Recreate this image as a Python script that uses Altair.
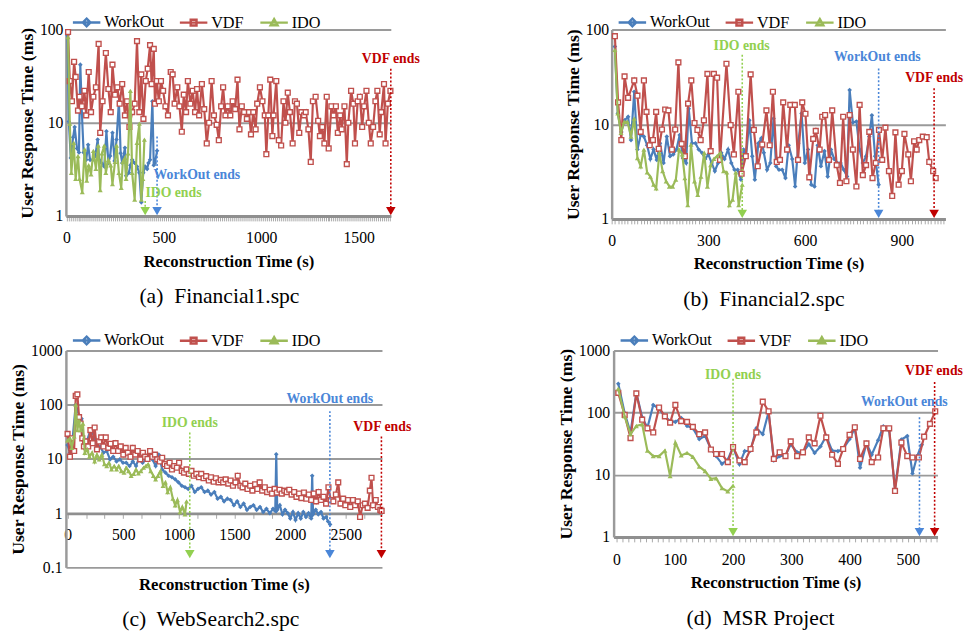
import altair as alt
import pandas as pd

FONT = "Liberation Serif"
SERIES = ["WorkOut", "VDF", "IDO"]
COLORS = ["#4A7EBB", "#C0504D", "#9BBB59"]
ANN_COLORS = {"WorkOut": "#4A86D8", "VDF": "#C00000", "IDO": "#92D050"}

# ---------------- (a) Financial1.spc ----------------
A_WORKOUT_X = [5, 12, 22, 34, 42, 54, 64, 71, 79, 88, 101, 111, 121, 135, 148, 160, 168, 180, 194, 205,
               215, 224, 236, 247, 257, 269, 278, 286, 300, 306, 320, 328, 337, 350, 362, 374, 384, 394, 404, 414,
               421, 429, 441, 448, 454, 465]
A_WORKOUT_Y = [87, 10.3, 4.2, 7, 9, 5.3, 4.8, 42, 12.6, 4.8, 4, 5.8, 4, 4, 4.4, 6.6, 4, 3.7, 3.4, 8.1,
               3.7, 4.4, 7.8, 3.9, 6.6, 17, 4.7, 3.7, 5.4, 2.7, 2.9, 3.5, 4, 3.7, 3.4, 2.9, 1.4, 2.9, 3.4, 3.2,
               3.7, 4, 17, 3.5, 3.7, 5]
A_VDF_X = [8, 17, 28, 39, 47, 59, 67, 79, 92, 101, 114, 126, 138, 151, 165, 173, 185, 202, 215, 227,
           236, 249, 261, 273, 286, 300, 311, 323, 337, 350, 362, 374, 384, 395, 407, 417, 429, 437, 448, 454,
           464, 474, 485, 496, 508, 521, 535, 545, 555, 569, 580, 592, 602, 614, 623, 636, 648, 660, 670, 681,
           695, 707, 720, 732, 745, 757, 771, 782, 794, 804, 816, 828, 841, 853, 866, 878, 888, 900, 912, 926,
           937, 947, 959, 971, 979, 993, 1006, 1018, 1026, 1036, 1046, 1057, 1063, 1077, 1090, 1102, 1114, 1124, 1136, 1147,
           1161, 1173, 1183, 1195, 1206, 1220, 1228, 1242, 1254, 1265, 1279, 1292, 1301, 1313, 1324, 1336, 1346, 1360, 1371, 1383,
           1393, 1405, 1413, 1427, 1439, 1447, 1461, 1473, 1481, 1495, 1506, 1518, 1528, 1540, 1552, 1562, 1574, 1586, 1596, 1608,
           1616, 1630, 1638, 1650, 1663]
A_VDF_Y = [94, 28, 17, 45, 31, 13.5, 19, 15, 22, 12, 35, 13, 19, 24, 70, 7.8, 17, 56, 23, 13,
           42, 20, 24, 16, 26, 12, 17, 9, 13, 16, 75, 13, 33, 11, 28, 38, 68, 26, 62, 16,
           28, 17, 28, 22, 15, 12, 35, 33, 16, 24, 15, 8, 20, 13, 28, 16, 22, 13, 23, 12,
           26, 14, 6, 10, 28, 12, 9.5, 6.5, 15, 24, 12, 15, 12, 17, 14, 29, 8.5, 15, 13, 11,
           13, 7.5, 13, 8.5, 16, 24, 17, 12, 4.6, 12, 29, 7.2, 12, 28, 6.5, 5.7, 17, 10, 21, 13,
           6, 17, 16, 7.8, 13, 12, 13, 8.5, 3.8, 17, 19, 10.5, 7.2, 9, 6, 19, 5.3, 15, 12, 15,
           7.8, 12, 8.5, 15, 3.6, 10, 22, 16, 6, 17, 19, 9, 15, 22, 10, 6, 9, 17, 22, 7.5,
           13, 26, 6, 16, 22]
A_IDO_X = [8, 17, 25, 37, 47, 59, 67, 81, 93, 104, 114, 126, 138, 151, 163, 173, 182, 194, 202, 215,
           227, 236, 249, 257, 269, 281, 289, 300, 306, 316, 328, 337, 350, 362, 374, 384, 392, 400]
A_IDO_Y = [83, 9.8, 2.9, 6.1, 2.5, 4.4, 2.5, 1.8, 5.2, 2.4, 3.5, 2.8, 5, 3.2, 5.7, 1.9, 4.7, 5.7, 2.9, 4,
           3.5, 2.2, 3.8, 5.7, 2.9, 2, 3.8, 4.2, 2.5, 4.7, 22, 2.9, 1.5, 6.1, 9.8, 1.5, 2.5, 6.6]

# ---------------- (b) Financial2.spc ----------------
B_WORKOUT_X = [10, 19, 30, 40, 51, 60, 70, 80, 90, 100, 110, 120, 130, 140, 150, 161, 171, 181, 191, 201,
               211, 221, 231, 239, 249, 260, 270, 280, 290, 300, 310, 320, 330, 340, 350, 361, 371, 381, 391, 401,
               409, 417, 427, 436, 444, 455, 464, 472, 482, 492, 502, 510, 519, 529, 539, 549, 560, 569, 579, 589,
               599, 609, 619, 629, 639, 649, 660, 670, 680, 690, 700, 710, 720, 730, 738, 748, 759, 769, 779, 789,
               799, 807, 817, 828]
B_WORKOUT_Y = [66, 13, 8.3, 11, 12, 6.8, 22, 5.4, 7.7, 7.4, 6, 4.3, 5.4, 4.2, 6.3, 3.9, 7.4, 4.6, 4.8, 5.4,
               7.7, 4.4, 3.9, 14.6, 6.3, 6.3, 5.4, 5, 4.3, 4.8, 3.9, 3.2, 3.9, 5, 4.3, 5.4, 3.9, 3.3, 3.3, 2.6,
               5.4, 4.6, 11, 4.6, 2.6, 6.3, 7.1, 5, 3.3, 3.9, 11.5, 3.6, 3.3, 3.3, 2.7, 6, 4.3, 2.2, 6.3, 13,
               3.9, 5.4, 2.3, 2.2, 6, 3.6, 5.2, 2.8, 5.4, 4.3, 3.9, 3.9, 3.3, 2.8, 23, 10.4, 10.7, 5.4, 3.9, 4.6,
               7.4, 12.4, 4.6, 2.3]
B_VDF_X = [10, 20, 30, 40, 51, 70, 80, 90, 100, 108, 118, 128, 138, 146, 156, 166, 176, 187, 197, 207,
           217, 227, 237, 247, 257, 266, 276, 286, 297, 307, 317, 327, 336, 356, 369, 379, 393, 403, 416, 431,
           441, 453, 467, 480, 490, 500, 512, 522, 532, 544, 554, 568, 578, 591, 601, 613, 625, 633, 645, 653,
           662, 674, 684, 698, 708, 718, 728, 738, 748, 759, 769, 779, 789, 799, 809, 819, 829, 839, 849, 860,
           870, 880, 890, 900, 908, 920, 928, 938, 946, 954, 965, 977, 985, 997, 1005]
B_VDF_Y = [85, 17, 6.8, 32, 19, 29, 20, 8.3, 29, 13.5, 6, 6.8, 13.5, 5.5, 8.8, 14.3, 14, 5.4, 8.8, 45,
           6.2, 4.6, 16.5, 29, 10.3, 8.7, 6.8, 11, 34, 5.2, 34, 31, 4.2, 43.5, 9.8, 4.8, 22, 3, 4.6, 33.6,
           8.7, 3.6, 6.1, 14, 6, 22, 4, 4.2, 17, 5.4, 16, 16, 4.2, 17, 12.9, 2.75, 7, 8.5, 5.4, 12,
           12.5, 4.2, 14, 3.7, 2.4, 12, 2.5, 12.5, 5.4, 2.2, 16, 2.9, 3.7, 8.3, 2.7, 3.9, 8.7, 4.2, 9.2, 3.2,
           1.75, 8.2, 2.3, 3.2, 7.9, 4.8, 2.5, 6.6, 5.4, 6.8, 7.4, 7.3, 4, 3.2, 2.7]
B_IDO_X = [10, 19, 29, 39, 49, 60, 70, 80, 90, 100, 110, 120, 130, 138, 148, 158, 169, 179, 189, 199,
           209, 219, 227, 236, 246, 257, 267, 277, 287, 297, 307, 317, 327, 337, 347, 357, 365, 375, 385, 394, 405]
B_IDO_Y = [61, 13, 8.1, 10.6, 10.6, 7.4, 11.5, 4.4, 3.6, 5.4, 3.1, 2.8, 2.3, 2.1, 5, 3.2, 2.5, 2.2, 2.2, 2.6,
           5.4, 4.8, 2.7, 1.4, 6.1, 2.5, 1.8, 2.8, 5, 2.2, 3.7, 4.3, 4.6, 5, 3.2, 3.1, 1.4, 1.6, 3.1, 1.4, 2.3]

# ---------------- (c) WebSearch2.spc ----------------
C_WORKOUT_X = [0, 21, 44, 73, 103, 126, 149, 176, 205, 234, 264, 293, 322, 352, 381, 410, 440, 469, 498, 527,
               557, 586, 615, 645, 674, 703, 733, 762, 791, 820, 850, 879, 908, 938, 967, 996, 1026, 1055, 1084, 1113,
               1143, 1172, 1201, 1231, 1260, 1289, 1319, 1348, 1377, 1406, 1436, 1465, 1494, 1524, 1553, 1582, 1612, 1641, 1670, 1699,
               1729, 1758, 1787, 1817, 1846, 1866, 1875, 1884, 1907, 1931, 1954, 1978, 2001, 2025, 2048, 2072, 2095, 2118, 2142, 2165,
               2189, 2198, 2206, 2230, 2253, 2277, 2300, 2323, 2341, 2359]
C_WORKOUT_Y = [18, 13, 22, 100, 63, 55, 17, 22, 34, 29, 15, 17, 13, 14, 9.8, 11, 9, 9.8, 8.5, 8.5,
               7.4, 9, 7.4, 11, 8.5, 9.8, 13, 9.8, 7.4, 12, 6.4, 5.6, 4.9, 4.6, 4.2, 3.7, 3.2, 3, 2.8, 3.2,
               2.45, 2.8, 3, 2.45, 2.6, 2.2, 2.45, 1.85, 2, 1.65, 1.85, 1.75, 1.4, 1.65, 1.3, 1.5, 1.15, 1.3, 1.4, 1.15,
               1.3, 1.05, 1.2, 1, 1.2, 1.1, 12.2, 1.15, 1.4, 0.95, 1.15, 1, 0.8, 1.05, 0.75, 1, 0.8, 1.05, 0.85, 1,
               0.8, 4.9, 0.95, 1.15, 0.95, 1.05, 0.8, 0.85, 0.7, 0.62]
C_VDF_X = [0, 21, 38, 59, 73, 88, 103, 117, 132, 147, 161, 185, 205, 226, 243, 264, 284, 302, 322, 343,
           366, 387, 410, 431, 454, 478, 501, 522, 542, 565, 586, 609, 630, 653, 677, 697, 718, 741, 762, 785,
           806, 829, 850, 873, 894, 917, 938, 958, 982, 1002, 1026, 1046, 1069, 1090, 1113, 1134, 1157, 1181, 1201, 1222,
           1245, 1269, 1289, 1313, 1333, 1357, 1377, 1398, 1421, 1444, 1465, 1486, 1509, 1529, 1553, 1573, 1597, 1617, 1641, 1661,
           1685, 1705, 1726, 1749, 1772, 1793, 1817, 1837, 1861, 1881, 1905, 1925, 1948, 1969, 1992, 2013, 2036, 2057, 2080, 2101,
           2124, 2145, 2168, 2189, 2212, 2233, 2256, 2277, 2300, 2323, 2344, 2365, 2388, 2411, 2432, 2452, 2476, 2496, 2520, 2540,
           2564, 2584, 2608, 2628, 2652, 2672, 2696, 2716, 2731, 2745, 2769, 2789, 2810, 2822]
C_VDF_Y = [29, 11, 24, 14, 145, 155, 59, 45, 24, 17, 21, 17, 34, 19.5, 38, 15, 21, 25, 17, 25,
           16, 19, 14, 19.5, 14, 17, 12, 16, 13, 11, 16, 12, 14, 9.8, 13, 11, 10, 14, 11, 12,
           9.8, 9, 10.5, 8, 7.4, 8.5, 6.4, 7.4, 6.9, 8.5, 6, 5.6, 6.4, 5.3, 6, 4.9, 5.3, 4.6, 5.3, 4.4,
           4.8, 4, 4.6, 3.8, 4.4, 3.7, 4.1, 3.7, 4.2, 3.5, 4, 3.2, 3.7, 4.9, 3.2, 3, 3.5, 2.8, 3.2, 2.6,
           3.4, 2.8, 3.7, 2.6, 3, 2.45, 2.7, 2.3, 2.8, 2.4, 2.7, 2.3, 2.6, 2.45, 2.7, 2.2, 2.45, 2, 2.3, 1.9,
           2.4, 1.85, 2.2, 1.75, 2.3, 1.65, 2.45, 1.75, 2, 1.5, 3, 1.75, 1.65, 2.2, 3.7, 1.5, 1.85, 1.4, 1.75, 1.3,
           1.75, 1.4, 1.65, 0.85, 1.4, 1.5, 1.25, 2.6, 4.5, 1.4, 1.75, 1.3, 1.15, 1.1]
C_IDO_X = [0, 21, 38, 59, 73, 88, 103, 117, 138, 155, 176, 196, 220, 243, 264, 284, 308, 331, 352, 372,
           395, 419, 440, 460, 483, 507, 527, 548, 571, 595, 615, 636, 659, 683, 703, 724, 747, 771, 791, 812,
           835, 858, 879, 899, 923, 946, 967, 987, 1011, 1031, 1055, 1069]
C_IDO_Y = [22, 24, 16, 26, 100, 34, 51, 34, 45, 13, 15, 11, 13, 9, 12, 9.8, 12, 8, 7.4, 8.5,
           6.4, 7.4, 6.4, 7.4, 6, 5.6, 6.9, 6, 4.9, 5.3, 6.4, 5.4, 6, 6.9, 7.4, 8, 6, 4.9, 4.2, 4.9,
           6, 3.2, 3.7, 2.45, 3, 1.85, 1.4, 1.75, 1.05, 1.3, 0.95, 1.65]

# ---------------- (d) MSR Project ----------------
D_WORKOUT_X = [3, 14, 24, 34, 44, 53, 63, 73, 83, 92, 101, 111, 121, 131, 142, 152, 162, 171, 181, 191,
               200, 211, 220, 230, 240, 251, 261, 270, 280, 290, 299, 310, 320, 330, 340, 350, 360, 370, 380, 389,
               400, 409, 418, 429, 438, 449, 458, 468, 478, 489, 499, 508, 516, 524]
D_WORKOUT_Y = [292, 98, 48, 208, 84, 57, 133, 115, 87, 73, 71, 82, 61, 56, 37.5, 42, 26, 20, 15, 17.5,
               28, 14.8, 24, 24.5, 56, 45, 102, 17, 20, 20.5, 31, 23, 23, 31, 22.5, 28.5, 42, 24.5, 24, 26,
               37.5, 57, 13, 32, 21, 36, 60, 51, 5.8, 37, 42, 10.5, 20, 30.5]
D_VDF_X = [3, 14, 24, 34, 44, 53, 63, 73, 83, 92, 101, 111, 121, 131, 142, 152, 162, 171, 181, 191,
           200, 211, 220, 230, 240, 251, 261, 270, 280, 290, 299, 310, 320, 330, 340, 350, 360, 370, 380, 389,
           400, 409, 418, 429, 438, 449, 458, 468, 478, 489, 499, 508, 519, 528, 538, 547]
D_VDF_Y = [208, 92, 39, 204, 77, 56, 48, 121, 87, 69, 133, 73, 71, 59, 45, 48, 25.5, 21.6, 21.6, 16,
           28, 17, 16, 26, 48, 150, 105, 18, 23, 20, 34.5, 20, 23, 40, 32, 89, 40, 21, 15, 26,
           44, 58, 18, 32, 16, 19, 56, 56, 5.5, 33, 20, 19, 19, 41, 66, 105]
D_IDO_X = [3, 14, 24, 34, 44, 53, 63, 73, 83, 92, 101, 111, 121, 131, 142, 152, 162, 171, 181, 191, 200]
D_IDO_Y = [243, 87, 45, 61, 65, 24.5, 20, 20, 24.5, 9.5, 33, 20.5, 22.5, 19.5, 13.5, 11.5, 8.6, 8.8, 6.1, 5.4, 6.7]

# annotation: series, arrow x, label x, label y, arrow top y, triangle y, align
A_ANN = [("WorkOut", 465, 447, 2.77, 7.1, 1.13, "left"),
         ("IDO", 404, 405, 1.75, 1.45, 1.13, "left"),
         ("VDF", 1665, 1665, 48, 38, 1.13, "center")]
B_ANN = [("IDO", 405, 403, 67, 54, 1.13, "center"),
         ("WorkOut", 828, 824, 51.6, 38.8, 1.13, "center"),
         ("VDF", 1000, 1000, 31, 24, 1.13, "center")]
C_ANN = [("IDO", 1098, 1098, 46, 30.7, 0.175, "center"),
         ("WorkOut", 2357, 2357, 126, 76, 0.175, "center"),
         ("VDF", 2820, 2828, 38, 26, 0.175, "center")]
D_ANN = [("IDO", 200, 200, 409, 350, 1.2, "center"),
         ("WorkOut", 520, 494, 150, 84, 1.2, "center"),
         ("VDF", 546, 545, 473, 310, 1.2, "center")]

# legend glyphs: a line segment with the series marker in the middle
LEGEND_PATHS = [
    "M-0.2,0L3.8,0M1.8,-0.55L2.35,0L1.8,0.55L1.25,0Z",
    "M-0.2,0L3.8,0M1.38,-0.42L2.22,-0.42L2.22,0.42L1.38,0.42Z",
    "M-0.2,0L3.8,0M1.8,-0.5L2.3,0.38L1.3,0.38Z",
]


def make_panel(series, xdom, tick_step, label_step, ydom, yvals, anns, w, h, caption,
               x_offset=0, title_pad=10, cap_offset=18, ylab_pad=6, legend_offset=1, xlab_pad=7):
    xticks = []
    k = 0
    while k * tick_step <= xdom[1] + 1e-9:
        xticks.append(round(k * tick_step, 4))
        k += 1
    label_expr = (f"abs(datum.value - {label_step}*round(datum.value/{label_step})) < 0.01"
                  f" ? format(round(datum.value), 'd') : ''")
    x_axis = alt.Axis(values=xticks, labelExpr=label_expr, title="Reconstruction Time (s)",
                      offset=x_offset, titlePadding=title_pad, grid=False, titleFontSize=17,
                      labelFontSize=16,
                      domainColor="#8F8F8F", domainWidth=3, tickColor="#A8A8A8",
                      tickSize=5, tickWidth=1, labelPadding=xlab_pad, labelOverlap=False,
                      labelFlush=False, labelBound=False)
    y_axis = alt.Axis(values=yvals, format="~g", title="User Response Time (ms)", grid=True,
                      gridColor="#9A9A9A", gridWidth=2, domainColor="#9A9A9A", domainWidth=2.5,
                      ticks=False, labelPadding=ylab_pad, titlePadding=3, labelFlush=False,
                      labelFontSize=16, titleFontSize=18, labelOverlap=False)

    def X(f):
        return alt.X(f"{f}:Q", scale=alt.Scale(domain=xdom, nice=False, zero=False), axis=x_axis)

    def Y(f):
        return alt.Y(f"{f}:Q", scale=alt.Scale(type="log", domain=ydom, nice=False), axis=y_axis)

    layers = []
    for name, color, (xs, ys) in zip(SERIES, COLORS, series):
        df = pd.DataFrame({"x": xs, "y": ys})
        base = alt.Chart(df)
        layers.append(base.mark_line(color=color, strokeWidth=2.2).encode(x=X("x"), y=Y("y")))
        if name == "WorkOut":
            pts = base.mark_point(shape="diamond", filled=True, color=color, size=22, opacity=1)
        elif name == "VDF":
            pts = base.mark_point(shape="square", filled=True, fill="white", stroke=color,
                                  strokeWidth=1.4, size=24, opacity=1)
        else:
            pts = base.mark_point(shape="triangle-up", filled=True, color=color, size=26, opacity=1)
        layers.append(pts.encode(x=X("x"), y=Y("y")))

    leg_df = pd.DataFrame({"series": SERIES, "x": [xdom[0]] * 3, "y": [ydom[0]] * 3})
    legend = alt.Legend(title=None, orient="top", direction="horizontal", offset=legend_offset)
    layers.append(
        alt.Chart(leg_df).transform_filter("false").mark_point(filled=False).encode(
            x=X("x"), y=Y("y"),
            color=alt.Color("series:N", scale=alt.Scale(domain=SERIES, range=COLORS), legend=legend),
            shape=alt.Shape("series:N", scale=alt.Scale(domain=SERIES, range=LEGEND_PATHS), legend=legend),
        )
    )

    for name, ax, tx, ty, top, tri, align in anns:
        col = ANN_COLORS[name]
        adf = pd.DataFrame({"x": [ax], "y": [top], "y2": [tri], "tx": [tx], "ty": [ty],
                            "label": [f"{name} ends"]})
        ab = alt.Chart(adf)
        layers.append(ab.mark_rule(color=col, strokeWidth=1.6, strokeDash=[2, 2]).encode(
            x=X("x"), y=Y("y"), y2="y2:Q"))
        layers.append(ab.mark_point(shape="triangle-down", filled=True, color=col, size=95, opacity=1).encode(
            x=X("x"), y=Y("y2")))
        layers.append(ab.mark_text(color=col, font=FONT, fontSize=14, fontWeight="bold", align=align,
                                   baseline="middle").encode(x=X("tx"), y=Y("ty"), text="label:N"))

    return alt.layer(*layers).properties(
        width=w, height=h,
        title=alt.TitleParams(caption, orient="bottom", font=FONT, fontSize=22, fontWeight="normal",
                              color="black", offset=cap_offset, frame="bounds", anchor="middle"),
    )


pa = make_panel([(A_WORKOUT_X, A_WORKOUT_Y), (A_VDF_X, A_VDF_Y), (A_IDO_X, A_IDO_Y)],
                [-3, 1665], 10, 500, [1, 100], [1, 10, 100], A_ANN, 331, 190,
                "(a)\u00a0 Financial1.spc", ylab_pad=3, legend_offset=-2, xlab_pad=9, title_pad=8)
pb = make_panel([(B_WORKOUT_X, B_WORKOUT_Y), (B_VDF_X, B_VDF_Y), (B_IDO_X, B_IDO_Y)],
                [0, 1035], 10, 300, [1, 100], [1, 10, 100], B_ANN, 340, 193,
                "(b)\u00a0 Financial2.spc", ylab_pad=3, legend_offset=-2, xlab_pad=9, title_pad=8)
pc = make_panel([(C_WORKOUT_X, C_WORKOUT_Y), (C_VDF_X, C_VDF_Y), (C_IDO_X, C_IDO_Y)],
                [-15, 2825], 500 / 3, 500, [0.1, 1000], [0.1, 1, 10, 100, 1000], C_ANN, 322, 221,
                "(c)\u00a0 WebSearch2.spc", x_offset=-55, title_pad=35, cap_offset=17, ylab_pad=4,
                xlab_pad=9)
pd_ = make_panel([(D_WORKOUT_X, D_WORKOUT_Y), (D_VDF_X, D_VDF_Y), (D_IDO_X, D_IDO_Y)],
                 [-5, 551], 10, 100, [1, 1000], [1, 10, 100, 1000], D_ANN, 330, 190,
                 "(d)\u00a0 MSR Project", cap_offset=18, ylab_pad=4, xlab_pad=10, title_pad=8)

row1 = alt.hconcat(pa, pb, spacing=147).resolve_scale(color="independent", shape="independent")
row2 = alt.hconcat(pc, pd_, spacing=148).resolve_scale(color="independent", shape="independent")

chart = alt.vconcat(row1, row2, spacing=22).resolve_scale(
    color="independent", shape="independent"
).configure(
    padding={"left": 2, "top": 0, "right": 2, "bottom": 0},
    font=FONT,
).configure_view(stroke=None).configure_axis(
    labelFont=FONT, titleFont=FONT, titleFontWeight="bold",
    labelColor="black", titleColor="black",
).configure_legend(
    labelFont=FONT, labelFontSize=16.5, labelColor="black", symbolSize=196, symbolStrokeWidth=2.5,
    labelOffset=22, columnPadding=9, padding=0, symbolOpacity=1,
)

chart.save("out.html", embed_options={"renderer": "svg", "actions": False})
